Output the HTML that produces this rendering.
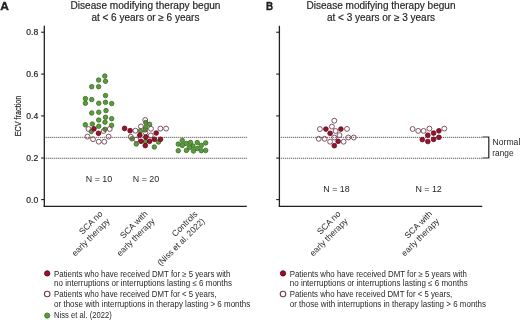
<!DOCTYPE html>
<html><head><meta charset="utf-8"><style>
html,body{margin:0;padding:0;background:#fff;width:520px;height:320px;overflow:hidden}
svg{display:block;will-change:transform}
</style></head><body>
<svg width="520" height="320" viewBox="0 0 520 320" font-family='"Liberation Sans", sans-serif' fill="#231f20">
<style>.tt{stroke:#231f20;stroke-width:0.18px}</style>
<rect width="520" height="320" fill="#fff"/>
<text x="0.2" y="9.6" font-size="10.2" font-weight="bold" stroke="#231f20" stroke-width="0.35" textLength="8.6" lengthAdjust="spacingAndGlyphs">A</text>
<text x="265.9" y="9.6" font-size="10.2" font-weight="bold" stroke="#231f20" stroke-width="0.35" textLength="7.1" lengthAdjust="spacingAndGlyphs">B</text>
<text class="tt" x="145.5" y="8.8" font-size="10" text-anchor="middle" textLength="150" lengthAdjust="spacingAndGlyphs">Disease modifying therapy begun</text>
<text class="tt" x="145.4" y="20.9" font-size="10" text-anchor="middle">at &lt; 6 years or ≥ 6 years</text>
<text class="tt" x="381" y="8.8" font-size="10" text-anchor="middle" textLength="149" lengthAdjust="spacingAndGlyphs">Disease modifying therapy begun</text>
<text class="tt" x="381" y="20.9" font-size="10" text-anchor="middle">at &lt; 3 years or ≥ 3 years</text>
<text class="tt" transform="translate(21.3,116) rotate(-90)" font-size="9.3" text-anchor="middle" textLength="40.7" lengthAdjust="spacingAndGlyphs">ECV fraction</text>
<line x1="44.3" y1="25.8" x2="44.3" y2="206.9" stroke="#231f20" stroke-width="1.3"/>
<line x1="43.65" y1="206.3" x2="246.8" y2="206.3" stroke="#231f20" stroke-width="1.3"/>
<line x1="41.099999999999994" y1="199.60" x2="44.3" y2="199.60" stroke="#231f20" stroke-width="1.1"/>
<text class="tt" x="38.20" y="202.70" text-anchor="end" font-size="8.6">0.0</text>
<line x1="41.099999999999994" y1="158.06" x2="44.3" y2="158.06" stroke="#231f20" stroke-width="1.1"/>
<text class="tt" x="38.20" y="161.16" text-anchor="end" font-size="8.6">0.2</text>
<line x1="41.099999999999994" y1="115.92" x2="44.3" y2="115.92" stroke="#231f20" stroke-width="1.1"/>
<text class="tt" x="38.20" y="119.02" text-anchor="end" font-size="8.6">0.4</text>
<line x1="41.099999999999994" y1="74.08" x2="44.3" y2="74.08" stroke="#231f20" stroke-width="1.1"/>
<text class="tt" x="38.20" y="77.18" text-anchor="end" font-size="8.6">0.6</text>
<line x1="41.099999999999994" y1="32.24" x2="44.3" y2="32.24" stroke="#231f20" stroke-width="1.1"/>
<text class="tt" x="38.20" y="35.34" text-anchor="end" font-size="8.6">0.8</text>
<line x1="45.699999999999996" y1="137.35" x2="246.8" y2="137.35" stroke="#2a2a2a" stroke-width="0.85" stroke-dasharray="1.1 0.9"/>
<line x1="45.699999999999996" y1="158.25" x2="246.8" y2="158.25" stroke="#2a2a2a" stroke-width="0.85" stroke-dasharray="1.1 0.9"/>
<line x1="279.4" y1="25.8" x2="279.4" y2="206.9" stroke="#231f20" stroke-width="1.3"/>
<line x1="278.75" y1="206.3" x2="482.3" y2="206.3" stroke="#231f20" stroke-width="1.3"/>
<line x1="276.2" y1="199.60" x2="279.4" y2="199.60" stroke="#231f20" stroke-width="1.1"/>
<line x1="276.2" y1="158.06" x2="279.4" y2="158.06" stroke="#231f20" stroke-width="1.1"/>
<line x1="276.2" y1="115.92" x2="279.4" y2="115.92" stroke="#231f20" stroke-width="1.1"/>
<line x1="276.2" y1="74.08" x2="279.4" y2="74.08" stroke="#231f20" stroke-width="1.1"/>
<line x1="276.2" y1="32.24" x2="279.4" y2="32.24" stroke="#231f20" stroke-width="1.1"/>
<line x1="280.79999999999995" y1="137.35" x2="482.3" y2="137.35" stroke="#2a2a2a" stroke-width="0.85" stroke-dasharray="1.1 0.9"/>
<line x1="280.79999999999995" y1="158.25" x2="482.3" y2="158.25" stroke="#2a2a2a" stroke-width="0.85" stroke-dasharray="1.1 0.9"/>
<path d="M482.4 137 H488.8 V158 H482.4" fill="none" stroke="#231f20" stroke-width="1.2"/>
<text x="492.5" y="145.4" font-size="8.7" textLength="27.8" lengthAdjust="spacingAndGlyphs">Normal</text>
<text x="492.3" y="155.6" font-size="8.7" textLength="21.2" lengthAdjust="spacingAndGlyphs">range</text>
<text x="99" y="181.7" font-size="8.9" text-anchor="middle">N = 10</text>
<text x="146" y="181.7" font-size="8.9" text-anchor="middle">N = 20</text>
<text x="336.5" y="191.9" font-size="8.9" text-anchor="middle">N = 18</text>
<text x="428.6" y="191.9" font-size="8.9" text-anchor="middle">N = 12</text>
<g transform="translate(103.1,214.4) rotate(-45)" font-size="8.6"><text x="0" y="0" text-anchor="end">SCA no</text><text x="0" y="10.2" text-anchor="end">early therapy</text></g>
<g transform="translate(148.1,214.4) rotate(-45)" font-size="8.6"><text x="0" y="0" text-anchor="end">SCA with</text><text x="0" y="10.2" text-anchor="end">early therapy</text></g>
<g transform="translate(198.0,214.6) rotate(-45)" font-size="8.6"><text x="0" y="0" text-anchor="end">Controls</text><text x="0" y="10.2" text-anchor="end" textLength="63" lengthAdjust="spacingAndGlyphs">(Niss et al. 2022)</text></g>
<g transform="translate(341.1,214.4) rotate(-45)" font-size="8.6"><text x="0" y="0" text-anchor="end">SCA no</text><text x="0" y="10.2" text-anchor="end">early therapy</text></g>
<g transform="translate(432.7,214.4) rotate(-45)" font-size="8.6"><text x="0" y="0" text-anchor="end">SCA with</text><text x="0" y="10.2" text-anchor="end">early therapy</text></g>
<circle cx="104.8" cy="76.1" r="2.25" fill="#5a9d3a" stroke="#386c25" stroke-width="0.8"/>
<circle cx="98.6" cy="80.1" r="2.25" fill="#5a9d3a" stroke="#386c25" stroke-width="0.8"/>
<circle cx="105.5" cy="81.25" r="2.25" fill="#5a9d3a" stroke="#386c25" stroke-width="0.8"/>
<circle cx="91.7" cy="86.7" r="2.25" fill="#5a9d3a" stroke="#386c25" stroke-width="0.8"/>
<circle cx="98.6" cy="86.7" r="2.25" fill="#5a9d3a" stroke="#386c25" stroke-width="0.8"/>
<circle cx="105.5" cy="95.6" r="2.25" fill="#5a9d3a" stroke="#386c25" stroke-width="0.8"/>
<circle cx="85.4" cy="98.6" r="2.25" fill="#5a9d3a" stroke="#386c25" stroke-width="0.8"/>
<circle cx="91.7" cy="99.6" r="2.25" fill="#5a9d3a" stroke="#386c25" stroke-width="0.8"/>
<circle cx="85.4" cy="103.25" r="2.25" fill="#5a9d3a" stroke="#386c25" stroke-width="0.8"/>
<circle cx="98.75" cy="103.25" r="2.25" fill="#5a9d3a" stroke="#386c25" stroke-width="0.8"/>
<circle cx="105.5" cy="102.3" r="2.25" fill="#5a9d3a" stroke="#386c25" stroke-width="0.8"/>
<circle cx="111.7" cy="103.6" r="2.25" fill="#5a9d3a" stroke="#386c25" stroke-width="0.8"/>
<circle cx="91.7" cy="113" r="2.25" fill="#5a9d3a" stroke="#386c25" stroke-width="0.8"/>
<circle cx="98.75" cy="112.2" r="2.25" fill="#5a9d3a" stroke="#386c25" stroke-width="0.8"/>
<circle cx="106" cy="110.6" r="2.25" fill="#5a9d3a" stroke="#386c25" stroke-width="0.8"/>
<circle cx="105.5" cy="117.3" r="2.25" fill="#5a9d3a" stroke="#386c25" stroke-width="0.8"/>
<circle cx="111.7" cy="118.7" r="2.25" fill="#5a9d3a" stroke="#386c25" stroke-width="0.8"/>
<circle cx="98.7" cy="120" r="2.25" fill="#5a9d3a" stroke="#386c25" stroke-width="0.8"/>
<circle cx="105" cy="122.2" r="2.25" fill="#5a9d3a" stroke="#386c25" stroke-width="0.8"/>
<circle cx="85.3" cy="124.8" r="2.25" fill="#5a9d3a" stroke="#386c25" stroke-width="0.8"/>
<circle cx="92.3" cy="124" r="2.25" fill="#5a9d3a" stroke="#386c25" stroke-width="0.8"/>
<circle cx="98.75" cy="126.25" r="2.25" fill="#5a9d3a" stroke="#386c25" stroke-width="0.8"/>
<circle cx="111.6" cy="125.3" r="2.25" fill="#5a9d3a" stroke="#386c25" stroke-width="0.8"/>
<circle cx="91.25" cy="131.5" r="2.25" fill="#5a9d3a" stroke="#386c25" stroke-width="0.8"/>
<circle cx="105" cy="129.3" r="2.25" fill="#5a9d3a" stroke="#386c25" stroke-width="0.8"/>
<circle cx="145.7" cy="122.5" r="2.25" fill="#5a9d3a" stroke="#386c25" stroke-width="0.8"/>
<circle cx="149.6" cy="124.3" r="2.25" fill="#5a9d3a" stroke="#386c25" stroke-width="0.8"/>
<circle cx="145.6" cy="127.5" r="2.25" fill="#5a9d3a" stroke="#386c25" stroke-width="0.8"/>
<circle cx="140.3" cy="130.9" r="2.25" fill="#5a9d3a" stroke="#386c25" stroke-width="0.8"/>
<circle cx="145.2" cy="130" r="2.25" fill="#5a9d3a" stroke="#386c25" stroke-width="0.8"/>
<circle cx="132" cy="138.8" r="2.25" fill="#5a9d3a" stroke="#386c25" stroke-width="0.8"/>
<circle cx="158.5" cy="142" r="2.25" fill="#5a9d3a" stroke="#386c25" stroke-width="0.8"/>
<circle cx="145.5" cy="141.5" r="2.25" fill="#5a9d3a" stroke="#386c25" stroke-width="0.8"/>
<circle cx="136.3" cy="144" r="2.25" fill="#5a9d3a" stroke="#386c25" stroke-width="0.8"/>
<circle cx="154.3" cy="147" r="2.25" fill="#5a9d3a" stroke="#386c25" stroke-width="0.8"/>
<circle cx="182.3" cy="140.4" r="2.25" fill="#5a9d3a" stroke="#386c25" stroke-width="0.8"/>
<circle cx="178.25" cy="144.1" r="2.25" fill="#5a9d3a" stroke="#386c25" stroke-width="0.8"/>
<circle cx="182.3" cy="145.4" r="2.25" fill="#5a9d3a" stroke="#386c25" stroke-width="0.8"/>
<circle cx="186.4" cy="143.5" r="2.25" fill="#5a9d3a" stroke="#386c25" stroke-width="0.8"/>
<circle cx="190.5" cy="142.4" r="2.25" fill="#5a9d3a" stroke="#386c25" stroke-width="0.8"/>
<circle cx="192.9" cy="146" r="2.25" fill="#5a9d3a" stroke="#386c25" stroke-width="0.8"/>
<circle cx="197.25" cy="142.6" r="2.25" fill="#5a9d3a" stroke="#386c25" stroke-width="0.8"/>
<circle cx="201.3" cy="145.4" r="2.25" fill="#5a9d3a" stroke="#386c25" stroke-width="0.8"/>
<circle cx="205.7" cy="142.9" r="2.25" fill="#5a9d3a" stroke="#386c25" stroke-width="0.8"/>
<circle cx="189.5" cy="147.6" r="2.25" fill="#5a9d3a" stroke="#386c25" stroke-width="0.8"/>
<circle cx="197.25" cy="148.5" r="2.25" fill="#5a9d3a" stroke="#386c25" stroke-width="0.8"/>
<circle cx="178.25" cy="150.7" r="2.25" fill="#5a9d3a" stroke="#386c25" stroke-width="0.8"/>
<circle cx="186.4" cy="150.4" r="2.25" fill="#5a9d3a" stroke="#386c25" stroke-width="0.8"/>
<circle cx="193.5" cy="151" r="2.25" fill="#5a9d3a" stroke="#386c25" stroke-width="0.8"/>
<circle cx="201.3" cy="150.7" r="2.25" fill="#5a9d3a" stroke="#386c25" stroke-width="0.8"/>
<circle cx="205.7" cy="150.4" r="2.25" fill="#5a9d3a" stroke="#386c25" stroke-width="0.8"/>
<circle cx="88.5" cy="129" r="2.45" fill="none" stroke="#7a4a5a" stroke-width="0.95"/>
<circle cx="103.6" cy="131" r="2.45" fill="none" stroke="#7a4a5a" stroke-width="0.95"/>
<circle cx="109.75" cy="129" r="2.45" fill="none" stroke="#7a4a5a" stroke-width="0.95"/>
<circle cx="87.5" cy="136.6" r="2.45" fill="none" stroke="#7a4a5a" stroke-width="0.95"/>
<circle cx="93" cy="139.2" r="2.45" fill="none" stroke="#7a4a5a" stroke-width="0.95"/>
<circle cx="98.75" cy="141.7" r="2.45" fill="none" stroke="#7a4a5a" stroke-width="0.95"/>
<circle cx="104.3" cy="141.7" r="2.45" fill="none" stroke="#7a4a5a" stroke-width="0.95"/>
<circle cx="108.6" cy="136.6" r="2.45" fill="none" stroke="#7a4a5a" stroke-width="0.95"/>
<circle cx="94" cy="128.8" r="2.35" fill="#951330" stroke="#650816" stroke-width="0.8"/>
<circle cx="98.5" cy="133.3" r="2.35" fill="#951330" stroke="#650816" stroke-width="0.8"/>
<circle cx="145.2" cy="120.0" r="2.45" fill="none" stroke="#7a4a5a" stroke-width="0.95"/>
<circle cx="140.9" cy="126.4" r="2.45" fill="none" stroke="#7a4a5a" stroke-width="0.95"/>
<circle cx="151" cy="128.8" r="2.45" fill="none" stroke="#7a4a5a" stroke-width="0.95"/>
<circle cx="135.4" cy="130.7" r="2.45" fill="none" stroke="#7a4a5a" stroke-width="0.95"/>
<circle cx="160.4" cy="128.6" r="2.45" fill="none" stroke="#7a4a5a" stroke-width="0.95"/>
<circle cx="166.1" cy="128.6" r="2.45" fill="none" stroke="#7a4a5a" stroke-width="0.95"/>
<circle cx="130.8" cy="136.8" r="2.45" fill="none" stroke="#7a4a5a" stroke-width="0.95"/>
<circle cx="150.8" cy="135.4" r="2.45" fill="none" stroke="#7a4a5a" stroke-width="0.95"/>
<circle cx="136.3" cy="139.6" r="2.45" fill="none" stroke="#7a4a5a" stroke-width="0.95"/>
<circle cx="145.4" cy="132.5" r="2.45" fill="none" stroke="#7a4a5a" stroke-width="0.95"/>
<circle cx="124.6" cy="128.4" r="2.35" fill="#951330" stroke="#650816" stroke-width="0.8"/>
<circle cx="130.1" cy="130.7" r="2.35" fill="#951330" stroke="#650816" stroke-width="0.8"/>
<circle cx="156.2" cy="133.0" r="2.35" fill="#951330" stroke="#650816" stroke-width="0.8"/>
<circle cx="139.8" cy="135.2" r="2.35" fill="#951330" stroke="#650816" stroke-width="0.8"/>
<circle cx="145.8" cy="137.1" r="2.35" fill="#951330" stroke="#650816" stroke-width="0.8"/>
<circle cx="154.4" cy="139.3" r="2.35" fill="#951330" stroke="#650816" stroke-width="0.8"/>
<circle cx="160.5" cy="139.3" r="2.35" fill="#951330" stroke="#650816" stroke-width="0.8"/>
<circle cx="141" cy="141.3" r="2.35" fill="#951330" stroke="#650816" stroke-width="0.8"/>
<circle cx="149.6" cy="141.3" r="2.35" fill="#951330" stroke="#650816" stroke-width="0.8"/>
<circle cx="145.3" cy="145.6" r="2.35" fill="#951330" stroke="#650816" stroke-width="0.8"/>
<circle cx="334.3" cy="120.7" r="2.45" fill="none" stroke="#7a4a5a" stroke-width="0.95"/>
<circle cx="331.9" cy="126.6" r="2.45" fill="none" stroke="#7a4a5a" stroke-width="0.95"/>
<circle cx="319.9" cy="129.1" r="2.45" fill="none" stroke="#7a4a5a" stroke-width="0.95"/>
<circle cx="347" cy="128.9" r="2.45" fill="none" stroke="#7a4a5a" stroke-width="0.95"/>
<circle cx="335.6" cy="131.0" r="2.45" fill="none" stroke="#7a4a5a" stroke-width="0.95"/>
<circle cx="339.5" cy="135.1" r="2.45" fill="none" stroke="#7a4a5a" stroke-width="0.95"/>
<circle cx="318.7" cy="138.8" r="2.45" fill="none" stroke="#7a4a5a" stroke-width="0.95"/>
<circle cx="324.6" cy="138.8" r="2.45" fill="none" stroke="#7a4a5a" stroke-width="0.95"/>
<circle cx="330.1" cy="141.7" r="2.45" fill="none" stroke="#7a4a5a" stroke-width="0.95"/>
<circle cx="334.3" cy="137.5" r="2.45" fill="none" stroke="#7a4a5a" stroke-width="0.95"/>
<circle cx="343.6" cy="141.7" r="2.45" fill="none" stroke="#7a4a5a" stroke-width="0.95"/>
<circle cx="348.3" cy="137.5" r="2.45" fill="none" stroke="#7a4a5a" stroke-width="0.95"/>
<circle cx="353.8" cy="137.5" r="2.45" fill="none" stroke="#7a4a5a" stroke-width="0.95"/>
<circle cx="325.9" cy="129.1" r="2.35" fill="#951330" stroke="#650816" stroke-width="0.8"/>
<circle cx="340.9" cy="129.1" r="2.35" fill="#951330" stroke="#650816" stroke-width="0.8"/>
<circle cx="330.1" cy="133.3" r="2.35" fill="#951330" stroke="#650816" stroke-width="0.8"/>
<circle cx="338.1" cy="141.3" r="2.35" fill="#951330" stroke="#650816" stroke-width="0.8"/>
<circle cx="334.3" cy="145.7" r="2.35" fill="#951330" stroke="#650816" stroke-width="0.8"/>
<circle cx="412.6" cy="129.0" r="2.45" fill="none" stroke="#7a4a5a" stroke-width="0.95"/>
<circle cx="418.2" cy="130.9" r="2.45" fill="none" stroke="#7a4a5a" stroke-width="0.95"/>
<circle cx="423.6" cy="130.9" r="2.45" fill="none" stroke="#7a4a5a" stroke-width="0.95"/>
<circle cx="429.4" cy="128.6" r="2.45" fill="none" stroke="#7a4a5a" stroke-width="0.95"/>
<circle cx="444.3" cy="128.6" r="2.45" fill="none" stroke="#7a4a5a" stroke-width="0.95"/>
<circle cx="427.8" cy="135.2" r="2.35" fill="#951330" stroke="#650816" stroke-width="0.8"/>
<circle cx="433.6" cy="133.1" r="2.35" fill="#951330" stroke="#650816" stroke-width="0.8"/>
<circle cx="438.9" cy="130.8" r="2.35" fill="#951330" stroke="#650816" stroke-width="0.8"/>
<circle cx="422.3" cy="139.6" r="2.35" fill="#951330" stroke="#650816" stroke-width="0.8"/>
<circle cx="427.8" cy="141.5" r="2.35" fill="#951330" stroke="#650816" stroke-width="0.8"/>
<circle cx="433.6" cy="139.4" r="2.35" fill="#951330" stroke="#650816" stroke-width="0.8"/>
<circle cx="438.9" cy="137.3" r="2.35" fill="#951330" stroke="#650816" stroke-width="0.8"/>
<circle cx="47.2" cy="273.4" r="2.65" fill="#951330" stroke="#650816" stroke-width="0.9"/>
<text x="54.1" y="276.5" font-size="8.2" textLength="176.3" lengthAdjust="spacingAndGlyphs">Patients who have received DMT for ≥ 5 years with</text>
<text x="54.1" y="285.5" font-size="8.2" textLength="177.9" lengthAdjust="spacingAndGlyphs">no interruptions or interruptions lasting ≤ 6 months</text>
<circle cx="47.2" cy="294" r="2.75" fill="none" stroke="#6e3d4c" stroke-width="1.1"/>
<text x="54.1" y="297.1" font-size="8.2" textLength="162.5" lengthAdjust="spacingAndGlyphs">Patients who have received DMT for &lt; 5 years,</text>
<text x="54.1" y="306.7" font-size="8.2" textLength="196.1" lengthAdjust="spacingAndGlyphs">or those with interruptions in therapy lasting &gt; 6 months</text>
<circle cx="47.2" cy="315.6" r="2.6" fill="#5a9d3a" stroke="#386c25" stroke-width="0.8"/>
<text x="54.1" y="317.9" font-size="8.2" textLength="57.6" lengthAdjust="spacingAndGlyphs">Niss et al. (2022)</text>
<circle cx="283" cy="273.4" r="2.65" fill="#951330" stroke="#650816" stroke-width="0.9"/>
<text x="289.75" y="276.5" font-size="8.2" textLength="177.1" lengthAdjust="spacingAndGlyphs">Patients who have received DMT for ≥ 5 years with</text>
<text x="289.75" y="285.5" font-size="8.2" textLength="177.9" lengthAdjust="spacingAndGlyphs">no interruptions or interruptions lasting ≤ 6 months</text>
<circle cx="283" cy="294" r="2.75" fill="none" stroke="#6e3d4c" stroke-width="1.1"/>
<text x="289.75" y="297.1" font-size="8.2" textLength="162.5" lengthAdjust="spacingAndGlyphs">Patients who have received DMT for &lt; 5 years,</text>
<text x="289.75" y="306.7" font-size="8.2" textLength="196.3" lengthAdjust="spacingAndGlyphs">or those with interruptions in therapy lasting &gt; 6 months</text>
</svg>
</body></html>
